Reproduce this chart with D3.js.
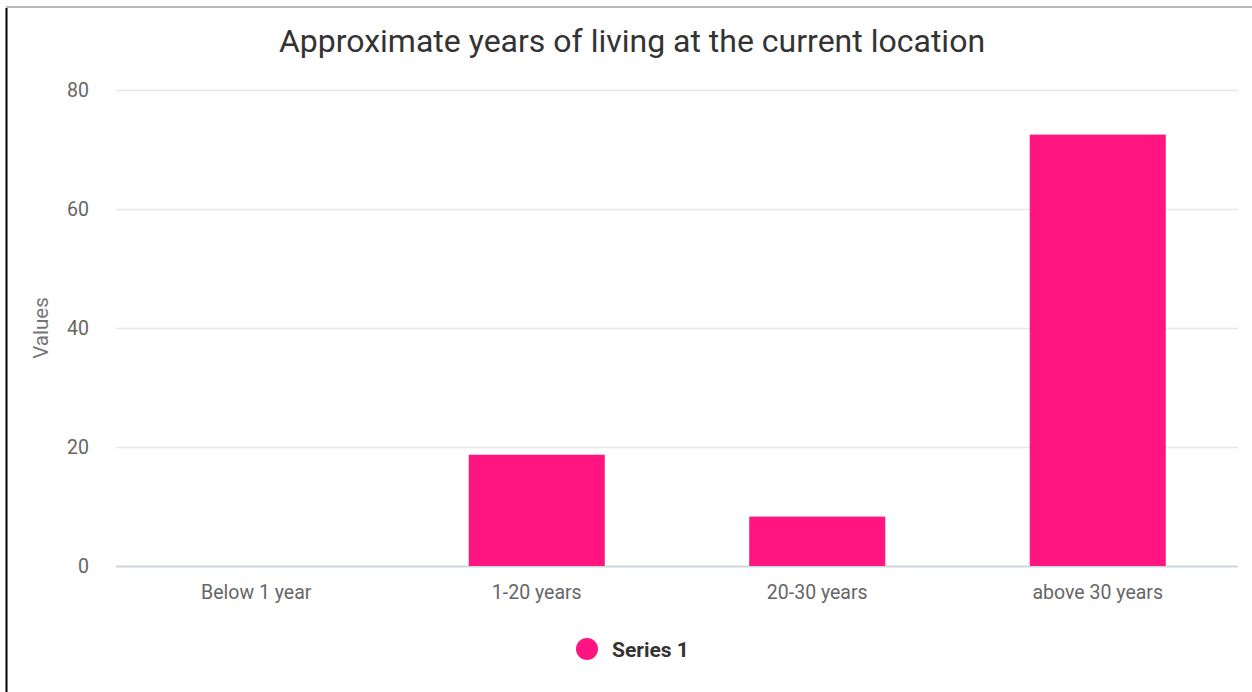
<!DOCTYPE html>
<html>
<head>
<meta charset="utf-8">
<script src="https://cdn.jsdelivr.net/npm/d3@7"></script>
<style>
  html, body { margin: 0; padding: 0; background: #fff; }
  svg { display: block; font-family: Roboto, "Noto Sans", sans-serif; }
</style>
</head>
<body>
<svg id="chart" width="1252" height="692"></svg>
<script>
// Data
const categories = ["Below 1 year", "1-20 years", "20-30 years", "above 30 years"];
const seriesValues = [0, 18.7, 8.3, 72.5];
const seriesName = "Series 1";
const yTicks = [0, 20, 40, 60, 80];
const chartTitle = "Approximate years of living at the current location";
const yAxisTitle = "Values";

const svg = d3.select("#chart");
const W = 1252, H = 692;
const plot = { left: 116, right: 1238, top: 90, bottom: 566 };
const barColor = "#ff1480";

// Frame lines
svg.append("line").attr("x1", 6).attr("x2", W).attr("y1", 7).attr("y2", 7)
  .attr("stroke", "#b8b8b8").attr("stroke-width", 2);
svg.append("line").attr("x1", 6.5).attr("x2", 6.5).attr("y1", 8).attr("y2", H)
  .attr("stroke", "#000").attr("stroke-width", 2);

// Scales
const x = d3.scaleBand().domain(categories)
  .range([plot.left, plot.right]).paddingInner(0.515).paddingOuter(0.2575);
const y = d3.scaleLinear().domain([0, 80]).range([plot.bottom, plot.top]);

// Title
svg.append("text").attr("x", 632).attr("y", 52).attr("text-anchor", "middle")
  .attr("font-size", 32).attr("fill", "#333").text(chartTitle);

// Gridlines + y tick labels
const yAxis = d3.axisLeft(y).tickValues(yTicks).tickSize(-(plot.right - plot.left)).tickPadding(27);
const gy = svg.append("g").attr("transform", `translate(${plot.left},0)`).call(yAxis);
gy.select(".domain").remove();
gy.selectAll(".tick line").attr("stroke", d => d === 0 ? "#ccd6dd" : "#e3e8ec").attr("stroke-width", d => d === 0 ? 2 : 1.5);
gy.selectAll(".tick text").attr("font-size", 19.5).attr("fill", "#666").attr("font-family", "Roboto, sans-serif");

// Y axis title
svg.append("text").attr("transform", `translate(48,${(plot.top + plot.bottom) / 2}) rotate(-90)`)
  .attr("text-anchor", "middle").attr("font-size", 20.5).attr("fill", "#777").text(yAxisTitle);

// Bars
svg.append("g").selectAll("rect").data(categories).join("rect")
  .attr("x", d => x(d))
  .attr("width", x.bandwidth())
  .attr("y", (d, i) => y(seriesValues[i]))
  .attr("height", (d, i) => y(0) - y(seriesValues[i]))
  .attr("fill", barColor);

// X axis labels
const xAxis = d3.axisBottom(x).tickSize(0).tickPadding(19);
const gx = svg.append("g").attr("transform", `translate(0,${plot.bottom})`).call(xAxis);
gx.select(".domain").remove();
gx.selectAll(".tick text").attr("font-size", 19.5).attr("fill", "#666").attr("font-family", "Roboto, sans-serif");

// Legend
const legend = svg.append("g").attr("transform", "translate(587,649)");
legend.append("circle").attr("r", 11).attr("fill", barColor);
legend.append("text").attr("x", 25).attr("y", 7.5).attr("font-size", 21).attr("font-weight", "bold")
  .attr("fill", "#333").text(seriesName);
</script>
</body>
</html>
